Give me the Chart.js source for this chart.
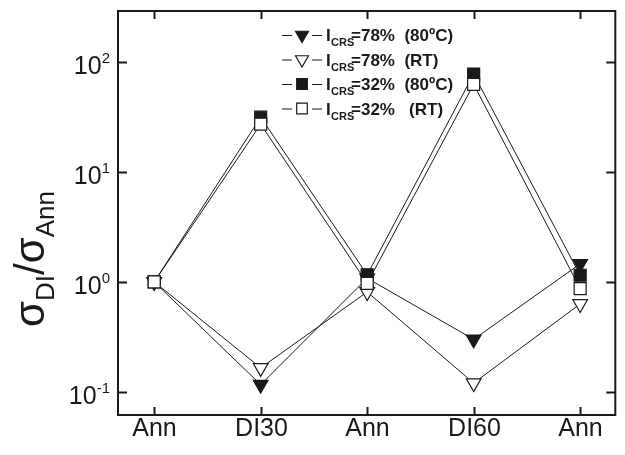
<!DOCTYPE html>
<html>
<head>
<meta charset="utf-8">
<script src="https://cdn.jsdelivr.net/npm/chart.js@4"></script>
<style>
  html, body { margin: 0; padding: 0; background: #fff; }
  #wrap { width: 625px; height: 455px; position: relative; }
</style>
</head>
<body>
<div id="wrap"><canvas id="chart" width="625" height="455"></canvas></div>
<script>
// categories along the x axis
const categories = ['Ann', 'DI30', 'Ann', 'DI60', 'Ann'];

// sigma_DI / sigma_Ann
const crs78hot = [1.0, 0.116, 1.08, 0.30, 1.46];
const crs78rt  = [1.0, 0.165, 0.81, 0.12, 0.63];
const crs32hot = [1.0, 31.6, 1.16, 78, 1.15];
const crs32rt  = [1.0, 27.3, 0.97, 63, 0.87];

const yTicks = [0.1, 1, 10, 100];
const yTickExp = ['-1', '0', '1', '2'];

const legendRows = [
    { text: '=78%  (80ºC)', idx: 0 },
    { text: '=78%  (RT)', idx: 1 },
    { text: '=32%  (80ºC)', idx: 2 },
    { text: '=32%   (RT)', idx: 3 }
];

function toPoints(arr) {
    return arr.map((v, i) => ({ x: i, y: v }));
}

function series(data, style, filled, order) {
    return {
        data: toPoints(data),
        borderColor: '#1a1a1a',
        borderWidth: 1,
        pointStyle: style,
        pointRotation: style === 'triangle' ? 180 : 0,
        pointRadius: 8.5,
        pointHoverRadius: 8.5,
        pointBorderWidth: 1.2,
        pointBorderColor: '#1a1a1a',
        pointBackgroundColor: filled ? '#1a1a1a' : '#ffffff',
        order: order,
        fill: false,
        tension: 0
    };
}

const FONT = '"Liberation Sans", Arial, Helvetica, sans-serif';

const decorPlugin = {
    id: 'decor',
    afterDraw(chart) {
        const ctx = chart.ctx;
        const area = chart.chartArea;
        const xs = chart.scales.x;
        const ys = chart.scales.y;
        ctx.save();
        ctx.strokeStyle = '#1a1a1a';
        ctx.fillStyle = '#1a1a1a';

        // frame
        ctx.lineWidth = 2;
        ctx.strokeRect(area.left, area.top, area.right - area.left, area.bottom - area.top);

        // x ticks (inward, top and bottom) and labels
        ctx.font = '25px ' + FONT;
        ctx.textAlign = 'center';
        ctx.textBaseline = 'alphabetic';
        categories.forEach((c, i) => {
            const px = Math.round(xs.getPixelForValue(i)) + 0.5;
            ctx.beginPath();
            ctx.moveTo(px, area.bottom);
            ctx.lineTo(px, area.bottom - 8);
            ctx.moveTo(px, area.top);
            ctx.lineTo(px, area.top + 8);
            ctx.stroke();
            ctx.fillText(c, px, 436);
        });

        // y ticks (inward, left and right) and labels 10^n
        yTicks.forEach((v, i) => {
            const py = Math.round(ys.getPixelForValue(v)) + 0.5;
            ctx.beginPath();
            ctx.moveTo(area.left, py);
            ctx.lineTo(area.left + 9, py);
            ctx.moveTo(area.right, py);
            ctx.lineTo(area.right - 9, py);
            ctx.stroke();
            ctx.font = '15px ' + FONT;
            const sup = yTickExp[i];
            const supW = ctx.measureText(sup).width;
            ctx.textAlign = 'right';
            ctx.fillText(sup, 110, py + 0);
            ctx.font = '25px ' + FONT;
            ctx.fillText('10', 110 - supW, py + 11);
        });

        // y axis title: sigma_DI / sigma_Ann
        ctx.save();
        ctx.translate(44, 259);
        ctx.rotate(-Math.PI / 2);
        const parts = [
            { t: 'σ', f: '42px ', dy: 0 },
            { t: 'DI', f: '26px ', dy: 10 },
            { t: '/', f: '42px ', dy: 0 },
            { t: 'σ', f: '42px ', dy: 0 },
            { t: 'Ann', f: '26px ', dy: 10 }
        ];
        let total = 0;
        parts.forEach(p => { ctx.font = p.f + FONT; p.w = ctx.measureText(p.t).width; total += p.w; });
        let cx = -total / 2;
        ctx.textAlign = 'left';
        parts.forEach(p => {
            ctx.font = p.f + FONT;
            ctx.fillText(p.t, cx, p.dy);
            cx += p.w;
        });
        ctx.restore();

        // legend
        legendRows.forEach((row, r) => {
            const y = 35 + r * 24.5;
            const ds = chart.data.datasets[row.idx];
            ctx.lineWidth = 1;
            ctx.strokeStyle = '#1a1a1a';
            ctx.beginPath();
            ctx.moveTo(282, y + 0.5);
            ctx.lineTo(292, y + 0.5);
            ctx.moveTo(312, y + 0.5);
            ctx.lineTo(322, y + 0.5);
            ctx.stroke();
            ctx.fillStyle = ds.pointBackgroundColor;
            ctx.lineWidth = ds.pointBorderWidth;
            Chart.helpers.drawPoint(ctx, {
                pointStyle: ds.pointStyle,
                rotation: ds.pointRotation,
                radius: 7.5,
                borderWidth: ds.pointBorderWidth
            }, 302, y);
            // text
            ctx.fillStyle = '#1a1a1a';
            ctx.textAlign = 'left';
            ctx.font = 'bold 17px ' + FONT;
            ctx.fillText('I', 326, y + 6);
            ctx.font = 'bold 11px ' + FONT;
            ctx.fillText('CRS', 331, y + 11);
            ctx.font = 'bold 17px ' + FONT;
            ctx.fillText(row.text, 351, y + 6);
        });

        ctx.restore();
    }
};

new Chart(document.getElementById('chart'), {
    type: 'line',
    data: {
        datasets: [
            series(crs78hot, 'triangle', true, 3),
            series(crs78rt, 'triangle', false, 2),
            series(crs32hot, 'rect', true, 1),
            series(crs32rt, 'rect', false, 0)
        ]
    },
    options: {
        responsive: false,
        animation: false,
        layout: { padding: { left: 118, right: 8, top: 11, bottom: 40 } },
        plugins: {
            legend: { display: false },
            tooltip: { enabled: false }
        },
        scales: {
            x: { type: 'linear', display: false, min: -0.34, max: 4.33 },
            y: { type: 'logarithmic', display: false, min: 0.0614, max: 293 }
        }
    },
    plugins: [decorPlugin]
});
</script>
</body>
</html>
